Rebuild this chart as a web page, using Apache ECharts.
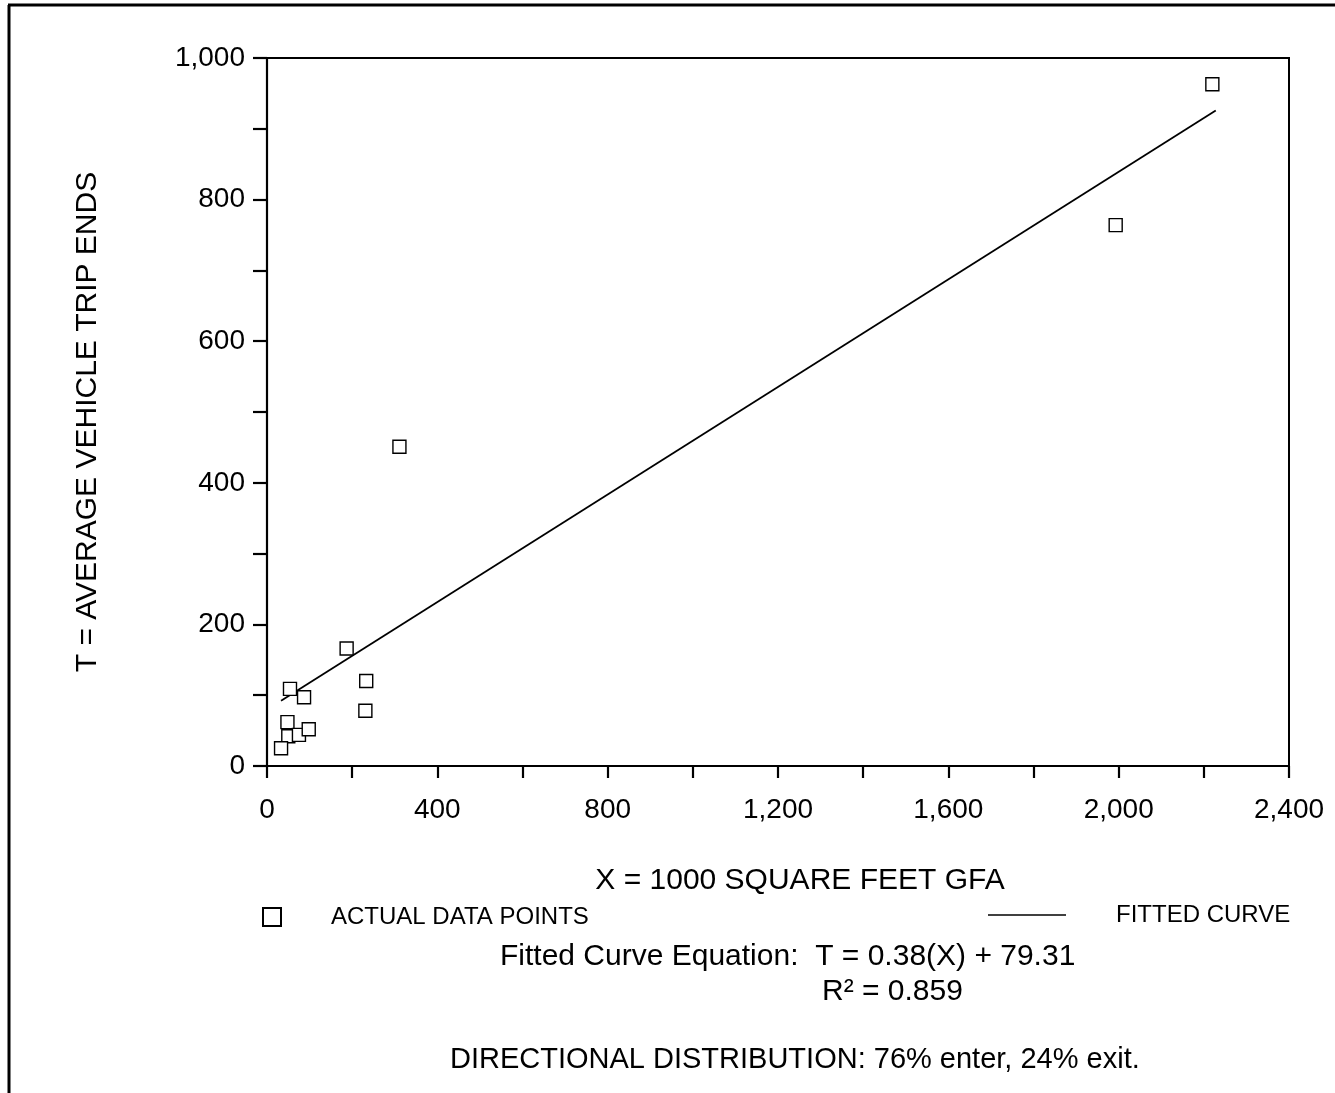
<!DOCTYPE html>
<html><head><meta charset="utf-8">
<script src="https://cdn.jsdelivr.net/npm/echarts@6/dist/echarts.min.js"></script>
<style>html,body{margin:0;padding:0;background:#fff}#c{width:1335px;height:1093px}</style>
</head><body><div id="c"></div>
<script>
// Actual data points: [X (1000 sq ft GFA), T (trip ends)]
const pointsX = [2220, 1993, 311, 187, 233, 231, 54, 87, 48, 50, 75, 98, 33];
const pointsT = [963, 764, 451, 166, 120, 78, 109, 97, 62, 42, 44, 52, 25];
// Fitted curve endpoints (T = 0.38X + 79.31)
const fitX = [33, 2228];
const fitT = [92, 926];
const xTicks = [0, 400, 800, 1200, 1600, 2000, 2400];
const yTicks = [0, 200, 400, 600, 800, 1000];

const FONT = "'Liberation Sans', Arial, sans-serif";
const chart = echarts.init(document.getElementById('c'), null, {renderer: 'canvas'});
const fmt = v => v.toLocaleString('en-US');

chart.setOption({
  animation: false,
  backgroundColor: '#fff',
  textStyle: {fontFamily: FONT, color: '#000'},
  grid: {left: 267, top: 58, width: 1022, height: 708, show: true, borderColor: '#000', borderWidth: 2, backgroundColor: 'transparent'},
  xAxis: {
    type: 'value', min: 0, max: 2400, interval: 400,
    name: 'X = 1000 SQUARE FEET GFA', nameLocation: 'middle', nameGap: 100,
    nameTextStyle: {fontSize: 30, color: '#000', fontFamily: FONT, padding: [0, 0, 0, 44]},
    axisLine: {lineStyle: {color: '#000', width: 2.2}},
    axisTick: {length: 12, lineStyle: {color: '#000', width: 2.2}},
    minorTick: {show: true, splitNumber: 2, length: 12, lineStyle: {color: '#000', width: 2.2}},
    axisLabel: {fontSize: 28, color: '#000', margin: 30, fontFamily: FONT,
      formatter: v => xTicks.includes(v) ? fmt(v) : ''},
    splitLine: {show: false}
  },
  yAxis: {
    type: 'value', min: 0, max: 1000, interval: 200,
    name: 'T = AVERAGE VEHICLE TRIP ENDS', nameLocation: 'middle', nameGap: 164, nameRotate: 90,
    nameTextStyle: {fontSize: 30, color: '#000', fontFamily: FONT, padding: [0, 20, 0, 0]},
    axisLine: {lineStyle: {color: '#000', width: 2.2}},
    axisTick: {length: 14, lineStyle: {color: '#000', width: 2.2}},
    minorTick: {show: true, splitNumber: 2, length: 14, lineStyle: {color: '#000', width: 2.2}},
    axisLabel: {fontSize: 28, color: '#000', margin: 22, fontFamily: FONT,
      formatter: v => yTicks.includes(v) ? fmt(v) : ''},
    splitLine: {show: false}
  },
  legend: [
    {data: ['ACTUAL DATA POINTS'], left: 262, top: 905, padding: 0, itemWidth: 18, itemHeight: 18,
     selectedMode: false, textStyle: {fontSize: 24, color: '#000', fontFamily: FONT, padding: [0, 0, 0, 45]}},
    {data: [{name: 'FITTED CURVE', icon: 'path://M0,0L100,0L100,2L0,2Z'}], left: 988, top: 903, padding: 0,
     itemWidth: 78, itemHeight: 2,
     selectedMode: false, textStyle: {fontSize: 24, color: '#000', fontFamily: FONT, padding: [0, 0, 0, 45]}}
  ],
  title: [
    {text: 'Fitted Curve Equation:  T = 0.38(X) + 79.31', left: 500, top: 942, padding: 0,
     textStyle: {fontSize: 30, fontWeight: 'normal', color: '#000', fontFamily: FONT}},
    {text: 'R\u00B2 = 0.859', left: 822, top: 977, padding: 0,
     textStyle: {fontSize: 30, fontWeight: 'normal', color: '#000', fontFamily: FONT}},
    {text: 'DIRECTIONAL DISTRIBUTION: 76% enter, 24% exit.', left: 450, top: 1045, padding: 0,
     textStyle: {fontSize: 29, fontWeight: 'normal', color: '#000', fontFamily: FONT}}
  ],
  graphic: [
    {type: 'line', shape: {x1: 8, y1: 5, x2: 1335, y2: 5}, style: {stroke: '#000', lineWidth: 3}},
    {type: 'line', shape: {x1: 9, y1: 5, x2: 9, y2: 1093}, style: {stroke: '#000', lineWidth: 3}}
  ],
  series: [
    {name: 'FITTED CURVE', type: 'line', data: fitX.map((x, i) => [x, fitT[i]]),
     symbol: 'none', showSymbol: false, lineStyle: {color: '#000', width: 1.8}, itemStyle: {color: '#000'}, z: 2},
    {name: 'ACTUAL DATA POINTS', type: 'scatter', data: pointsX.map((x, i) => [x, pointsT[i]]),
     symbol: 'rect', symbolSize: 13,
     itemStyle: {color: '#fff', borderColor: '#000', borderWidth: 1.4, opacity: 1}, z: 3}
  ]
});
</script></body></html>
